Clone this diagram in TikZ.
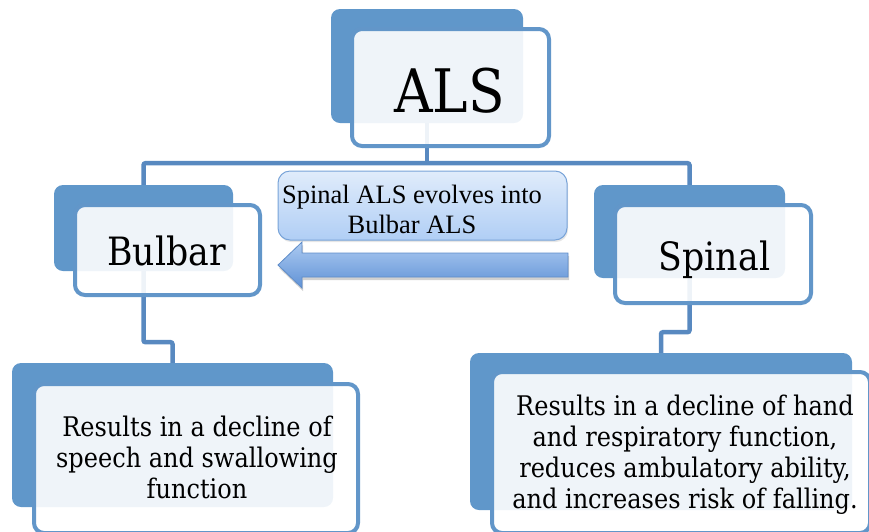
\documentclass[tikz,border=0pt]{standalone}
\usepackage{fontspec}
\setmainfont{Liberation Serif}
\newfontfamily\camfont[FakeStretch=0.89]{DejaVu Serif}
\usetikzlibrary{shadows}
\definecolor{backblue}{RGB}{96,151,202}
\definecolor{edgeblue}{RGB}{98,150,201}
\definecolor{linkblue}{RGB}{88,137,192}
\definecolor{calltop}{RGB}{224,236,251}
\definecolor{callbot}{RGB}{176,206,245}
\definecolor{calledge}{RGB}{120,163,216}
\definecolor{arrtop}{RGB}{172,202,241}
\definecolor{arrbot}{RGB}{96,146,214}
\definecolor{arredge}{RGB}{94,140,200}
\begin{document}
\begin{tikzpicture}[x=1pt,y=-1pt,
  backbox/.style={rectangle, rounded corners=9pt, fill=backblue, inner sep=0pt},
  frontbox/.style={rectangle, rounded corners=10pt, draw=edgeblue, line width=4pt,
    fill=white, fill opacity=0.9, inner sep=0pt},
  link/.style={draw=linkblue, line width=4.5pt, rounded corners=2pt},
  calloutbox/.style={rectangle, rounded corners=12pt, draw=calledge, line width=1pt,
    top color=calltop, bottom color=callbot, inner sep=0pt,
    drop shadow={opacity=0.2, shadow xshift=1pt, shadow yshift=-2pt}},
  bigtext/.style={anchor=base, inner sep=0pt, font=\camfont\fontsize{39}{39}\selectfont},
  bodytext/.style={align=center, inner sep=0pt, font=\camfont\fontsize{27}{31}\selectfont},
]
\useasboundingbox (0,0) rectangle (869,531);
\clip (0,0) rectangle (869,531);

% back rectangles
\node[backbox, minimum width=192pt, minimum height=114pt] (alsback) at (427,66) {};
\node[backbox, minimum width=179pt, minimum height=86pt] (bulbback) at (143.5,228) {};
\node[backbox, minimum width=191pt, minimum height=93pt] (spinback) at (689.5,231.5) {};
\node[backbox, minimum width=321pt, minimum height=144pt] (blback) at (172.5,435) {};
\node[backbox, minimum width=382pt, minimum height=157pt] (brback) at (661,431.5) {};

% connectors
\draw[link] (alsback.south) -- ++(0,40) coordinate (hub);
\draw[link] (bulbback.north) |- (hub) -| (spinback.north);
\draw[link] (bulbback.south) -- ++(0,71) -| (blback.north);
\draw[link] (spinback.south) -- ++(0,54) -| (brback.north);

% front boxes
\node[frontbox, minimum width=197pt, minimum height=117pt] (alsfront) at (450.5,87.5) {};
\node[frontbox, minimum width=185pt, minimum height=90pt] (bulbfront) at (167.5,250) {};
\node[frontbox, minimum width=196pt, minimum height=98pt] (spinfront) at (713,254) {};
\node[frontbox, minimum width=324pt, minimum height=149pt] (blfront) at (196,458.5) {};
\node[frontbox, minimum width=378pt, minimum height=161pt] (brfront) at (681,452.5) {};

% texts
\node[bigtext, font=\camfont\fontsize{60}{60}\selectfont] (alstext) at (449.5,112) {ALS};
\node[bigtext] (bulbtext) at (166.5,265) {Bulbar};
\node[bigtext] (spintext) at (714.5,270) {Spinal};
\node[bodytext] (bltext) at (197,457) {Results in a decline of\\speech and swallowing\\function};
\node[bodytext] (brtext) at (685,455) {Results in a decline of hand\\and respiratory function,\\reduces ambulatory ability,\\and increases risk of falling.};

% callout and block arrow
\node[calloutbox, minimum width=289pt, minimum height=69pt] (callout) at (422.5,205.5) {};
\node[align=center, inner sep=0pt, font=\fontsize{26.5}{30}\selectfont] (calltext) at (412,209)
  {Spinal ALS evolves into\\Bulbar ALS};
\fill[black, opacity=0.18] (569,256) -- (303,256) -- (303,245) -- (279,268) -- (303,291) -- (303,280) -- (569,280) -- cycle;
\shade[top color=arrtop, bottom color=arrbot, draw=arredge, line width=0.8pt]
  (568,253) -- (302,253) -- (302,242) -- (278,265) -- (302,288) -- (302,277) -- (568,277) -- cycle;
\end{tikzpicture}
\end{document}
